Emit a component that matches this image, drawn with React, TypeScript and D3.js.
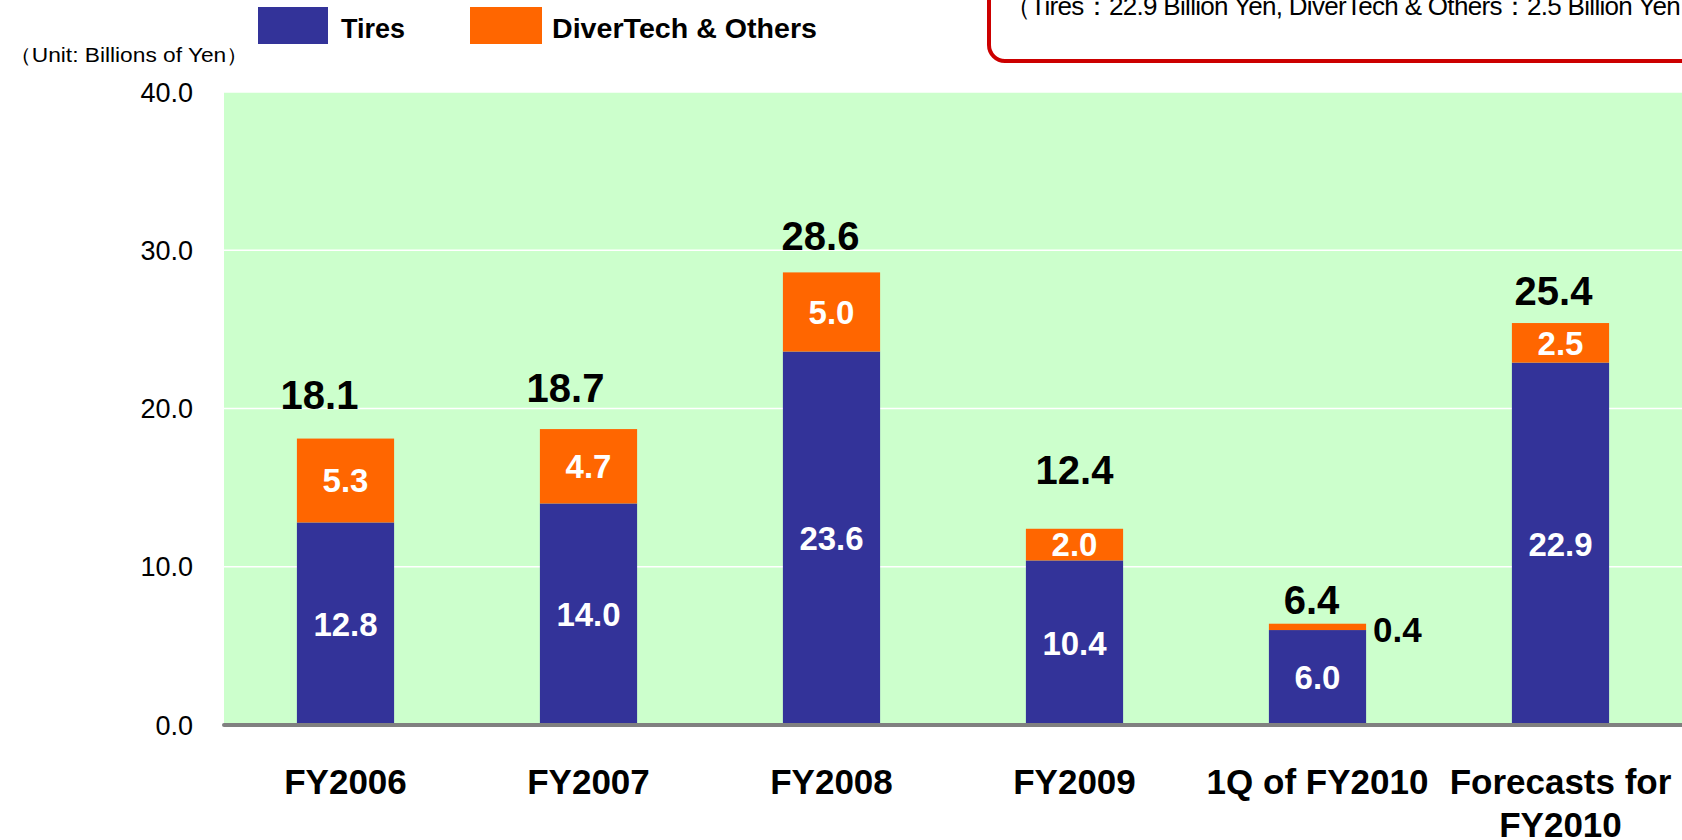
import React from 'react';
import * as d3 from 'd3';

// chart values
const categories = [['FY2006'], ['FY2007'], ['FY2008'], ['FY2009'], ['1Q of FY2010'], ['Forecasts for', 'FY2010']];
const tires = [12.8, 14.0, 23.6, 10.4, 6.0, 22.9];
const diverTech = [5.3, 4.7, 5.0, 2.0, 0.4, 2.5];
const totals = [18.1, 18.7, 28.6, 12.4, 6.4, 25.4];
const yTicks = [0, 10, 20, 30, 40];
const seriesNames = ['Tires', 'DiverTech & Others'];
const noteText = '（Tires：22.9 Billion Yen, DiverTech & Others：2.5 Billion Yen）';

// hand placed total labels in the original (px nudge, gap above bar)
const totalDx = [-26, -23, -11, 0, -6, -7];
const totalGap = [30, 27, 22, 45, 10, 18];

const colors = { tires: '#333399', other: '#FF6600', plot: '#CCFFCC' };
const font = '"Liberation Sans", Arial, sans-serif';

export default function App() {
  const width = 1682;
  const height = 840;
  const margin = { top: 92, right: 0, bottom: 115, left: 224 };

  const x = d3.scaleBand()
    .domain(categories.map((c) => c.join(' ')))
    .range([margin.left, width - margin.right])
    .paddingInner(0.6)
    .paddingOuter(0.3);

  const y = d3.scaleLinear()
    .domain([0, 40])
    .range([height - margin.bottom, margin.top]);

  const bw = x.bandwidth();
  const fmt = d3.format('.1f');

  return (
    <svg width={width} height={height} style={{ position: 'absolute', left: 0, top: 0 }} fontFamily={font}>
      {/* note box, cut off at top and right */}
      <rect x={989} y={-100} width={800} height={161} rx={16} fill="white" stroke="#CC0000" strokeWidth={4} />
      <text x={1005} y={15} fontSize={26} fill="#000" textLength={701} lengthAdjust="spacing">{noteText}</text>

      {/* legend */}
      <rect x={258} y={7} width={70} height={37} fill={colors.tires} />
      <text x={341} y={38} fontSize={28} fontWeight="bold" textLength={64} lengthAdjust="spacingAndGlyphs">{seriesNames[0]}</text>
      <rect x={470} y={7} width={72} height={37} fill={colors.other} />
      <text x={552} y={38} fontSize={28} fontWeight="bold" textLength={265} lengthAdjust="spacingAndGlyphs">{seriesNames[1]}</text>

      <text x={9} y={62} fontSize={20} textLength={240} lengthAdjust="spacingAndGlyphs">（Unit: Billions of Yen）</text>

      {/* plot area */}
      <rect x={margin.left} y={y(40)} width={width - margin.left} height={y(0) - y(40)} fill={colors.plot} />
      {yTicks.filter((t) => t > 0).map((t) => (
        <line key={t} x1={margin.left} x2={width} y1={y(t)} y2={y(t)} stroke="white" strokeWidth={1.5} />
      ))}
      {yTicks.map((t) => (
        <text key={t} x={193} y={y(t)} dy="0.36em" textAnchor="end" fontSize={27}>{fmt(t)}</text>
      ))}

      {/* stacked bars */}
      {categories.map((c, i) => {
        const key = c.join(' ');
        const x0 = x(key) as number;
        const cx = x0 + bw / 2;
        const yT = y(tires[i]);
        const yO = y(tires[i] + diverTech[i]);
        const oh = yT - yO;
        return (
          <g key={key}>
            <rect x={x0} y={yT} width={bw} height={y(0) - yT} fill={colors.tires} />
            <rect x={x0} y={yO} width={bw} height={oh} fill={colors.other} />
            <text x={cx} y={(yT + y(0)) / 2} dy="0.36em" textAnchor="middle" fontSize={33} fontWeight="bold" fill="white">
              {fmt(tires[i])}
            </text>
            {oh > 20 ? (
              <text x={cx} y={(yO + yT) / 2} dy="0.36em" textAnchor="middle" fontSize={33} fontWeight="bold" fill="white">
                {fmt(diverTech[i])}
              </text>
            ) : (
              <text x={x0 + bw + 7} y={(yO + yT) / 2 + 3} dy="0.36em" fontSize={35} fontWeight="bold" fill="black">
                {fmt(diverTech[i])}
              </text>
            )}
            <text x={cx + totalDx[i]} y={y(totals[i]) - totalGap[i]} textAnchor="middle" fontSize={40} fontWeight="bold">
              {fmt(totals[i])}
            </text>
            {c.map((line, j) => (
              <text key={j} x={cx} y={794 + j * 43} textAnchor="middle" fontSize={35} fontWeight="bold">{line}</text>
            ))}
          </g>
        );
      })}

      {/* baseline */}
      <line x1={margin.left} x2={width} y1={y(0)} y2={y(0)} stroke="#808080" strokeWidth={4} strokeLinecap="round" />
    </svg>
  );
}
